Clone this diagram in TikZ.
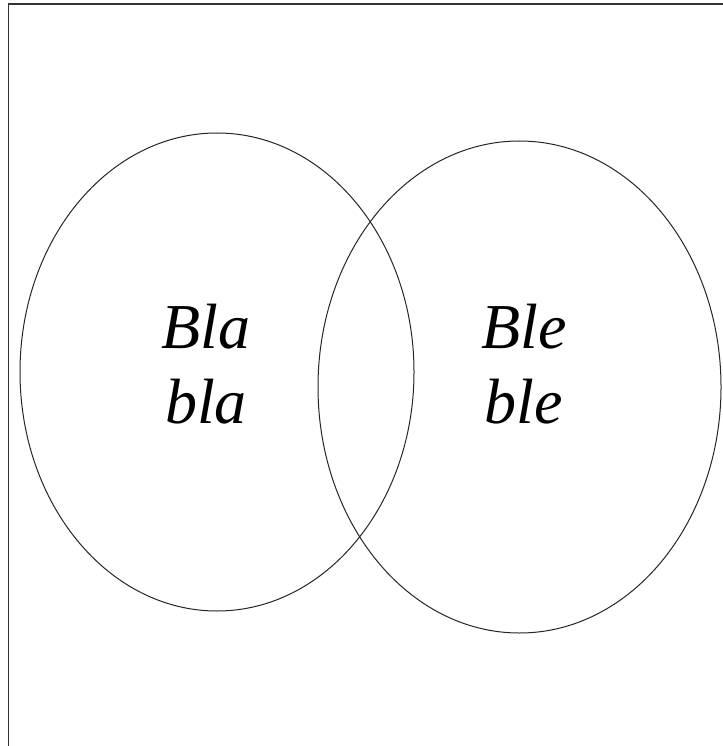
\documentclass[tikz,border=0pt]{standalone}
\usepackage{fontspec}
\setmainfont{Liberation Serif}
\usetikzlibrary{shapes.geometric}
\begin{document}
\begin{tikzpicture}[x=1pt,y=-1pt,
  setshape/.style={draw=black!85,line width=1pt,ellipse,inner sep=0pt},
  setlabel/.style={font=\fontsize{64}{75}\selectfont\itshape,align=center,anchor=base,inner sep=0pt}]
\useasboundingbox (0,0) rectangle (722,746);
\fill[white] (0,0) rectangle (722,746);
\draw[line width=1.6pt,black!80] (8.5,760) -- (8.5,3.8) -- (740,3.8);
\node[setshape,minimum width=394pt,minimum height=478pt] (left) at (217,372) {};
\node[setshape,minimum width=403pt,minimum height=492pt] (right) at (519.5,387) {};
\node[setlabel] (la) at (206,423) {Bla\\bla};
\node[setlabel] (lb) at (524,423) {Ble\\ble};
\end{tikzpicture}
\end{document}
